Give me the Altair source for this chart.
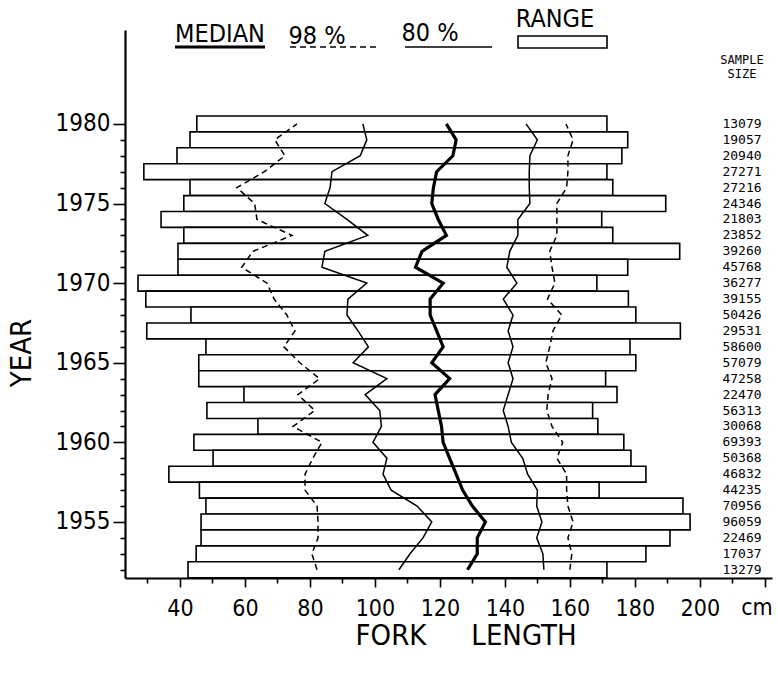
import altair as alt
import pandas as pd

# One row per year, listed from 1980 down to 1952
years = list(range(1980, 1951, -1))

range_min = [45.2, 43.1, 39.1, 28.9, 43.1, 41.2, 34.2, 41.2, 39.4, 39.4,
             27.1, 29.5, 43.4, 29.8, 48.0, 45.8, 45.8, 59.7, 48.3, 64.0,
             44.3, 50.2, 36.6, 46.0, 48.0, 46.5, 46.5, 45.0, 42.5]
range_max = [171.4, 177.8, 176.0, 171.4, 173.2, 189.5, 169.8, 173.2, 193.8, 177.8,
             168.3, 178.0, 180.3, 194.0, 178.5, 180.3, 171.0, 174.5, 167.0, 168.6,
             176.6, 178.8, 183.4, 169.0, 194.8, 197.0, 190.8, 183.4, 171.4]
p01 = [76.0, 69.2, 72.3, 66.0, 57.5, 63.0, 63.7, 74.5, 62.5, 59.0,
       66.8, 69.0, 72.9, 75.4, 72.0, 76.9, 83.0, 76.3, 81.5, 74.8,
       83.7, 80.9, 78.5, 78.5, 82.2, 82.5, 82.5, 80.6, 82.2]
p10 = [96.3, 97.5, 95.5, 86.8, 86.2, 84.6, 91.4, 97.8, 84.6, 83.7,
       97.5, 91.7, 91.4, 94.8, 98.0, 93.3, 103.7, 97.0, 101.5, 102.0,
       99.4, 103.7, 102.5, 105.0, 113.0, 117.5, 114.8, 110.8, 107.4]
median = [122.0, 125.0, 124.0, 119.0, 118.0, 117.5, 119.5, 122.0, 114.5, 112.5,
          121.0, 117.0, 117.0, 119.0, 121.0, 117.5, 123.0, 118.5, 119.5, 120.5,
          121.0, 123.0, 125.0, 127.0, 130.0, 134.0, 131.5, 131.5, 128.5]
p90 = [146.5, 150.0, 147.7, 147.5, 147.5, 147.7, 144.0, 144.0, 141.5, 140.6,
       143.7, 139.5, 142.5, 141.0, 142.5, 141.0, 142.5, 141.0, 139.5, 141.0,
       142.0, 145.5, 147.0, 150.0, 149.8, 151.4, 149.8, 151.7, 152.0]
p99 = [158.8, 161.0, 159.4, 159.4, 159.0, 156.0, 156.0, 156.0, 153.8, 154.5,
       155.4, 153.1, 157.5, 154.8, 153.8, 152.6, 154.5, 153.3, 152.9, 154.5,
       157.8, 156.0, 159.0, 159.0, 159.4, 161.0, 159.4, 160.6, 160.0]
sample_size = ["13079", "19057", "20940", "27271", "27216", "24346", "21803",
               "23852", "39260", "45768", "36277", "39155", "50426", "29531",
               "58600", "57079", "47258", "22470", "56313", "30068", "69393",
               "50368", "46832", "44235", "70956", "96059", "22469", "17037",
               "13279"]

x_ticks = list(range(30, 221, 10))
y_ticks = list(range(1952, 1981))

FONT = "DejaVu Sans Condensed, DejaVu Sans, sans-serif"
MONO = "DejaVu Sans Mono"
W, H = 647, 548

rows = pd.DataFrame({
    "year": years, "lo": range_min, "hi": range_max, "n": sample_size,
})
rows["y0"] = rows["year"] - 0.5
rows["y1"] = rows["year"] + 0.5

lines = pd.concat([
    pd.DataFrame({"year": years, "value": vals, "series": name})
    for name, vals in [("p01", p01), ("p10", p10), ("median", median),
                       ("p90", p90), ("p99", p99)]
], ignore_index=True)

xs = alt.Scale(domain=[23.1, 222.2], nice=False, zero=False)
ys = alt.Scale(domain=[1951.48, 1985.9], nice=False, zero=False)

x_axis = alt.Axis(
    values=x_ticks, title=None, grid=False,
    labelExpr="datum.value >= 40 && datum.value <= 200 && datum.value % 20 === 0 ? datum.value : ''",
    tickSize={"condition": {"test": "datum.value % 20 === 0", "value": 9}, "value": 5},
    tickColor="black", tickWidth=1.6, domainColor="black", domainWidth=2.2,
    labelFont=FONT, labelFontSize=23, labelColor="black", labelPadding=21,
    labelBaseline="middle", labelFlush=False, labelOverlap=False,
)
y_axis = alt.Axis(
    values=y_ticks, title=None, grid=False,
    labelExpr="datum.value % 5 === 0 ? datum.value : ''",
    tickSize={"condition": {"test": "datum.value % 5 === 0", "value": 12}, "value": 5},
    tickColor="black", tickWidth=1.6, domainColor="black", domainWidth=2.2,
    labelFont=FONT, labelFontSize=24, labelColor="black", labelPadding=3,
    labelFlush=False, labelOverlap=False,
)

# range of lengths for each year
bars = alt.Chart(rows).mark_rect(fill="white", stroke="black", strokeWidth=1.6).encode(
    x=alt.X("lo:Q", scale=xs, axis=x_axis),
    x2="hi:Q",
    y=alt.Y("y0:Q", scale=ys, axis=y_axis),
    y2="y1:Q",
)

def percentile_line(names, **style):
    return alt.Chart(lines).transform_filter(
        alt.FieldOneOfPredicate(field="series", oneOf=names)
    ).mark_line(color="black", **style).encode(
        x=alt.X("value:Q", scale=xs, axis=x_axis),
        y=alt.Y("year:Q", scale=ys, axis=y_axis),
        detail="series:N",
        order=alt.Order("year:Q"),
    )

outer = percentile_line(["p01", "p99"], strokeWidth=1.5, strokeDash=[6, 4])
inner = percentile_line(["p10", "p90"], strokeWidth=1.5)
mid = percentile_line(["median"], strokeWidth=3.2)

# sample size column
sizes = alt.Chart(rows).mark_text(font=MONO, fontSize=13, color="black").encode(
    x=alt.value(617), y=alt.Y("year:Q", scale=ys, axis=y_axis), text="n:N",
)

def label(text, x, y, size, font=FONT, angle=0, align="center", baseline="middle"):
    return alt.Chart(pd.DataFrame({"t": [text]})).mark_text(
        font=font, fontSize=size, color="black", angle=angle,
        align=align, baseline=baseline,
    ).encode(x=alt.value(x), y=alt.value(y), text="t:N")

def hline(x1, x2, y, **style):
    return alt.Chart(pd.DataFrame({"k": [0]})).mark_rule(color="black", **style).encode(
        x=alt.value(x1), x2=alt.value(x2), y=alt.value(y),
    )

key_box = alt.Chart(pd.DataFrame({"k": [0]})).mark_rect(
    fill="white", stroke="black", strokeWidth=1.6
).encode(x=alt.value(393), x2=alt.value(482), y=alt.value(6), y2=alt.value(18))

legend = [
    label("MEDIAN", 95, 4, 25),
    hline(50, 140, 17, strokeWidth=3.2),
    label("98 %", 192, 6, 25),
    hline(165, 253, 17, strokeWidth=1.5, strokeDash=[6, 4]),
    label("80 %", 305, 3, 25),
    hline(280, 367, 17, strokeWidth=1.5),
    label("RANGE", 430, -11, 25),
    key_box,
]

texts = [
    label("SAMPLE", 617, 30, 12, font=MONO),
    label("SIZE", 617, 44, 12, font=MONO),
    label("cm", 632, 578, 23),
    label("FORK", 266, 606, 29),
    label("LENGTH", 399, 606, 29),
    label("YEAR", -103, 323, 29, angle=270),
]

chart = alt.layer(bars, outer, inner, mid, sizes, *legend, *texts).properties(
    width=W, height=H,
    autosize=alt.AutoSizeParams(type="none"),
    padding={"left": 125, "top": 30, "right": 6, "bottom": 98},
    background="white",
).configure_view(stroke=None).configure_axis(labelOverlap=False)

chart.save("out.html", embed_options={"renderer": "svg", "actions": False})
